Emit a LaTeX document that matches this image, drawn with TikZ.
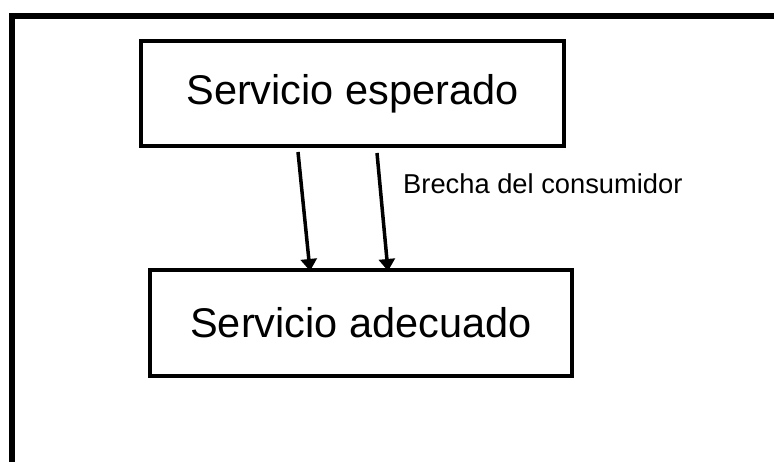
\documentclass[tikz,border=0pt]{standalone}
\usepackage{fontspec}
\setmainfont{Liberation Sans}
\usetikzlibrary{arrows.meta}
\begin{document}
\begin{tikzpicture}[x=1pt,y=-1pt,
  box/.style={draw, line width=4.5pt, inner sep=0pt, font=\fontsize{41.5}{48}\selectfont},
  gap/.style={line width=3.5pt, -{Triangle[length=12pt,width=16pt]}},
  lbl/.style={inner sep=0pt, anchor=west, font=\fontsize{27.3}{32}\selectfont}]
\useasboundingbox (0,0) rectangle (774,462);
\coordinate (fa) at (774,16);
\coordinate (fb) at (12,16);
\coordinate (fc) at (12,462);
\draw[line width=6pt, line join=miter] (fa) -- (fb) -- (fc);
\node[box, minimum width=423pt, minimum height=105pt] (top) at (352.5,93.5) {Servicio esperado};
\node[box, minimum width=422pt, minimum height=106pt] (bot) at (361,323) {Servicio adecuado};
\coordinate (a1s) at (298,152);
\coordinate (a1e) at (310,271);
\coordinate (a2s) at (377,153);
\coordinate (a2e) at (388,271);
\draw[gap] (a1s) -- (a1e);
\draw[gap] (a2s) -- (a2e);
\node[lbl] (brecha) at (403,184) {Brecha del consumidor};
\end{tikzpicture}
\end{document}
